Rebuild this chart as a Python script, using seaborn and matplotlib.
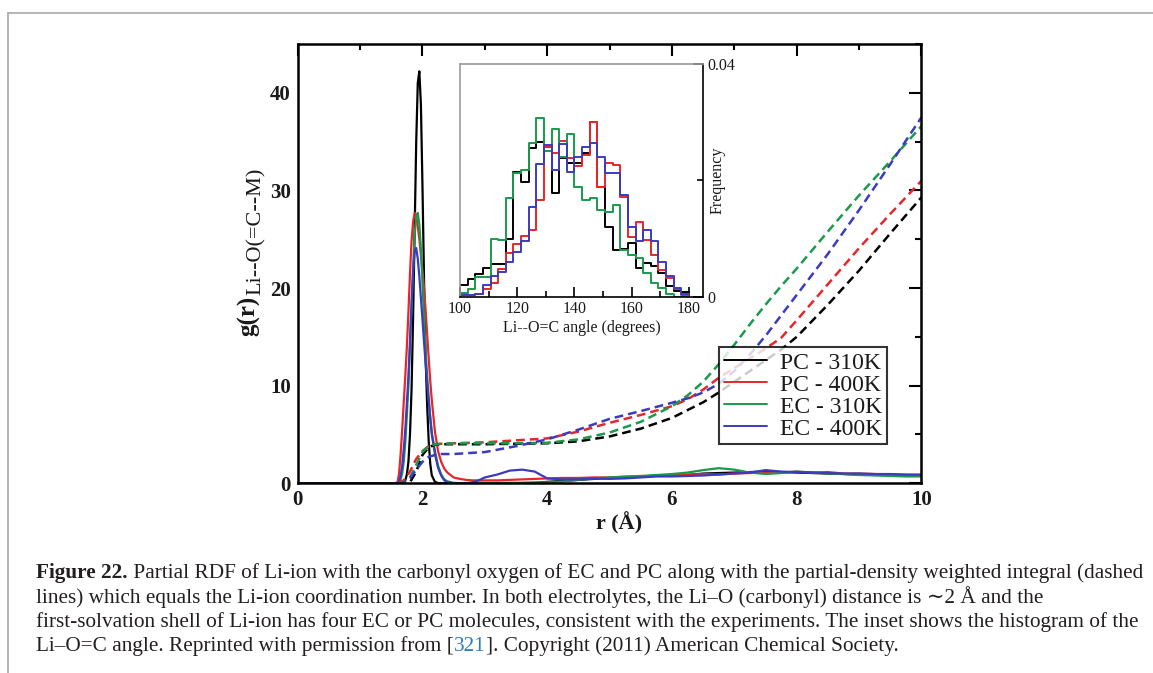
import numpy as np
import pandas as pd
import matplotlib
matplotlib.use("Agg")
import matplotlib.pyplot as plt
import seaborn as sns
from matplotlib.lines import Line2D
from matplotlib.ticker import MultipleLocator, FixedLocator

# ---------------- data ----------------
r_rdf = [0.0, 1.5, 1.55, 1.6, 1.625, 1.65, 1.675, 1.7, 1.725, 1.75, 1.775, 1.8, 1.825, 1.85, 1.875,
         1.9, 1.925, 1.95, 1.975, 2.0, 2.025, 2.05, 2.075, 2.1, 2.125, 2.15, 2.2, 2.25, 2.3, 2.35,
         2.4, 2.5, 2.6, 2.7, 2.8, 2.9, 3.0, 3.2, 3.4, 3.6, 3.8, 4.0, 4.25, 4.5, 4.75, 5.0, 5.25,
         5.5, 5.75, 6.0, 6.25, 6.5, 6.75, 7.0, 7.25, 7.5, 7.75, 8.0, 8.25, 8.5, 8.75, 9.0, 9.25,
         9.5, 9.75, 10.0]

g_pc310 = [0, 0, 0, 0, 0, 0, 0, 0.1, 0.3, 0.9, 2.2, 5.0, 9.6, 17.0, 26.0,
           35.0, 41.0, 42.2, 38.8, 30.5, 21.0, 13.0, 8.0, 4.3, 2.0, 0.8, 0.15, 0.02, 0, 0,
           0, 0, 0, 0, 0, 0, 0, 0, 0.02, 0.03, 0.05, 0.15, 0.25, 0.35, 0.45, 0.55, 0.6,
           0.7, 0.75, 0.8, 0.85, 1.0, 1.05, 1.1, 1.15, 1.2, 1.15, 1.1, 1.05, 1.0, 0.95, 0.9, 0.9,
           0.85, 0.8, 0.8]
g_pc400 = [0, 0, 0, 0.1, 1.0, 3.0, 5.5, 8.3, 11.0, 14.0, 17.5, 21.5, 24.8, 26.8, 27.7,
           27.5, 26.3, 25.0, 23.4, 21.8, 20.0, 17.8, 15.3, 12.8, 10.5, 8.5, 5.3, 3.3, 2.2, 1.5,
           1.1, 0.6, 0.45, 0.35, 0.3, 0.3, 0.3, 0.3, 0.35, 0.4, 0.45, 0.5, 0.55, 0.55, 0.6, 0.6, 0.65,
           0.7, 0.8, 0.85, 0.9, 0.95, 0.9, 1.0, 1.05, 1.1, 1.1, 1.2, 1.1, 1.15, 1.0, 1.0, 0.95,
           0.9, 0.85, 0.8]
g_ec310 = [0, 0, 0, 0, 0.1, 0.4, 1.0, 2.2, 4.2, 7.0, 10.0, 14.0, 18.0, 22.0, 25.5,
           27.3, 27.7, 26.5, 24.0, 20.5, 17.0, 13.5, 11.0, 8.8, 6.8, 5.2, 3.3, 1.8, 0.9, 0.4,
           0.2, 0.05, 0.02, 0.02, 0.03, 0.05, 0.05, 0.05, 0.05, 0.05, 0.08, 0.1, 0.2, 0.35, 0.5, 0.6, 0.7,
           0.75, 0.85, 0.95, 1.1, 1.35, 1.55, 1.4, 1.1, 0.95, 1.05, 1.2, 1.1, 1.0, 0.95, 0.85, 0.8,
           0.75, 0.7, 0.7]
g_ec400 = [0, 0, 0, 0, 0.2, 0.8, 1.8, 3.5, 5.5, 8.2, 11.0, 14.5, 18.5, 21.8, 23.8,
           24.1, 23.0, 21.2, 19.0, 16.8, 14.5, 12.3, 10.3, 8.4, 6.6, 5.0, 3.0, 1.6, 0.8, 0.3,
           0.1, 0.0, 0.0, 0.0, 0.1, 0.3, 0.6, 0.9, 1.3, 1.4, 1.2, 0.5, 0.4, 0.4, 0.5, 0.45, 0.5,
           0.6, 0.7, 0.7, 0.75, 0.8, 0.9, 1.0, 1.1, 1.35, 1.2, 1.15, 1.1, 1.05, 1.0, 1.0, 0.95,
           0.95, 0.9, 0.9]

r_cn = [1.6, 1.7, 1.8, 1.9, 2.0, 2.1, 2.2, 2.3, 2.5, 3.0, 3.5, 4.0, 4.5, 5.0, 5.5, 6.0,
        6.25, 6.5, 6.75, 7.0, 7.25, 7.5, 7.75, 8.0, 8.5, 9.0, 9.5, 10.0]
cn_pc310 = [0, 0, 0.1, 1.2, 2.9, 3.7, 3.95, 4.0, 4.0, 4.0, 4.05, 4.1, 4.3, 4.8, 5.6, 6.7,
            7.5, 8.3, 9.3, 10.4, 11.5, 12.6, 13.7, 15.0, 18.3, 21.8, 25.6, 29.3]
cn_pc400 = [0, 0.3, 1.2, 2.5, 3.3, 3.8, 4.0, 4.05, 4.1, 4.2, 4.4, 4.6, 5.3, 6.2, 7.0, 7.9,
            8.6, 9.6, 10.8, 11.8, 12.8, 13.8, 14.9, 16.7, 20.4, 24.1, 27.6, 31.0]
cn_ec310 = [0, 0.1, 0.6, 1.9, 3.2, 3.85, 4.0, 4.05, 4.1, 4.1, 4.1, 4.15, 4.5, 5.2, 6.3, 7.9,
            9.0, 10.4, 12.2, 14.2, 16.3, 18.3, 20.2, 22.0, 25.8, 29.5, 33.0, 36.6]
cn_ec400 = [0, 0.05, 0.5, 1.4, 2.2, 2.7, 2.9, 3.0, 3.0, 3.2, 3.8, 4.5, 5.5, 6.6, 7.4, 8.25,
            8.7, 9.3, 10.2, 11.5, 13.2, 15.1, 17.2, 19.3, 23.5, 28.0, 32.7, 37.5]

# inset histogram (30 bins between 100 and 180 degrees)
angle_min, angle_max, n_bins = 100, 180, 30
h_pc310 = [0.0020, 0.0030, 0.0039, 0.0049, 0.0057, 0.0057, 0.0100, 0.0215, 0.0198, 0.0255,
           0.0266, 0.0258, 0.0178, 0.0238, 0.0229, 0.0229, 0.0247, 0.0301, 0.0189, 0.0120,
           0.0080, 0.0082, 0.0092, 0.0050, 0.0058, 0.0052, 0.0040, 0.0018, 0.0010, 0.0008]
h_pc400 = [0.0005, 0.0003, 0.0005, 0.0014, 0.0023, 0.0048, 0.0075, 0.0090, 0.0105, 0.0115,
           0.0166, 0.0258, 0.0247, 0.0267, 0.0238, 0.0224, 0.0244, 0.0301, 0.0189, 0.0229,
           0.0226, 0.0172, 0.0103, 0.0129, 0.0097, 0.0072, 0.0046, 0.0032, 0.0014, 0.0003]
h_ec310 = [0.0006, 0.0013, 0.0034, 0.0034, 0.0100, 0.0097, 0.0169, 0.0212, 0.0218, 0.0265,
           0.0308, 0.0250, 0.0288, 0.0240, 0.0280, 0.0189, 0.0166, 0.0170, 0.0149, 0.0145,
           0.0158, 0.0080, 0.0072, 0.0067, 0.0040, 0.0023, 0.0015, 0.0005, 0.0, 0.0]
h_ec400 = [0.0003, 0.0003, 0.0005, 0.0020, 0.0035, 0.0042, 0.0060, 0.0077, 0.0095, 0.0155,
           0.0228, 0.0260, 0.0218, 0.0262, 0.0215, 0.0240, 0.0258, 0.0265, 0.0240, 0.0212,
           0.0212, 0.0175, 0.0120, 0.0095, 0.0115, 0.0095, 0.0060, 0.0035, 0.0015, 0.0005]

labels = ["PC - 310K", "PC - 400K", "EC - 310K", "EC - 400K"]
colors = ["#000000", "#e8262a", "#1a9a4a", "#3b3bbf"]

ylabel_main = "g(r)"
ylabel_sub = "Li--O(=C--M)"

caption_lines = [
    [("Figure 22.", "bold", "k"),
     (" Partial RDF of Li-ion with the carbonyl oxygen of EC and PC along with the partial-density weighted integral (dashed", "normal", "k")],
    [("lines) which equals the Li-ion coordination number. In both electrolytes, the Li\u2013O (carbonyl) distance is \u223c2 \u00c5 and the", "normal", "k")],
    [("first-solvation shell of Li-ion has four EC or PC molecules, consistent with the experiments. The inset shows the histogram of the", "normal", "k")],
    [("Li\u2013O=C angle. Reprinted with permission from [", "normal", "k"), ("321", "normal", "link"),
     ("]. Copyright (2011) American Chemical Society.", "normal", "k")],
]

# ---------------- style ----------------
sns.set_theme(style="white")
plt.rcParams['font.family'] = ['Liberation Serif', 'DejaVu Serif']

W, H = 1153, 673
fig = plt.figure(figsize=(W / 100, H / 100), dpi=100)
fig.patch.set_facecolor("white")
renderer = fig.canvas.get_renderer()

def fx(px):
    return px / W

def fy(py):
    return 1 - py / H

# frame lines of the page
fig.add_artist(Line2D([fx(8), 1], [fy(13), fy(13)], color="#a8a8a8", lw=1.2))
fig.add_artist(Line2D([fx(8), fx(8)], [0, fy(13)], color="#a8a8a8", lw=1.2))

# ---------------- main axes ----------------
L, R, T, B = 297.7, 921.5, 44.0, 483.3
ax = fig.add_axes([fx(L), fy(B), (R - L) / W, (B - T) / H])
ax.set_facecolor("white")

rdfs = [g_pc310, g_pc400, g_ec310, g_ec400]
cns = [cn_pc310, cn_pc400, cn_ec310, cn_ec400]
for g, c in zip(rdfs, colors):
    sns.lineplot(x=r_rdf, y=g, color=c, lw=1.6, ax=ax, legend=False, sort=False)
for n, c in zip(cns, colors):
    sns.lineplot(x=r_cn, y=n, color=c, lw=1.8, ax=ax, legend=False, sort=False,
                 linestyle=(0, (3.5, 2.0)))

ax.set_xlim(0, 10)
ax.set_ylim(0, 45)
ax.xaxis.set_major_locator(MultipleLocator(2))
ax.xaxis.set_minor_locator(MultipleLocator(1))
ax.yaxis.set_major_locator(MultipleLocator(10))
ax.yaxis.set_minor_locator(MultipleLocator(5))
ax.tick_params(which="both", direction="in", top=True, right=True, width=1.5, color="black")
ax.tick_params(which="major", length=8.5)
ax.tick_params(which="minor", length=4.5)
ax.tick_params(axis="x", which="major", pad=5)
ax.tick_params(axis="y", which="major", pad=5)
for lab in ax.get_xticklabels() + ax.get_yticklabels():
    lab.set_fontsize(15)
    lab.set_fontweight("bold")
    lab.set_color("#1a1a1a")
for sp in ax.spines.values():
    sp.set_color("black")
    sp.set_linewidth(1.8)

ax.set_xlabel("r (\u00c5)", fontsize=16, fontweight="bold", labelpad=3, color="#1a1a1a")
ax.xaxis.set_label_coords(0.515, -0.065)
ax.set_ylabel("")
# y label: "g(r)" with a subscript, drawn as two rotated texts
t_main = fig.text(fx(249), fy(336), ylabel_main, rotation=90, fontsize=18, fontweight="bold",
                  color="#1a1a1a", ha="center", va="bottom")
bb_main = t_main.get_window_extent(renderer)
fig.text(fx(256), (bb_main.y1 + 1) / H, ylabel_sub, rotation=90, fontsize=16,
         color="#1a1a1a", ha="center", va="bottom")

handles = [Line2D([], [], color=c, lw=1.4) for c in colors]
leg = ax.legend(handles, labels, loc="upper left", bbox_to_anchor=(0.6755, 0.3095),
                borderaxespad=0, fontsize=17, frameon=True, fancybox=False,
                edgecolor="black", handlelength=1.85, handletextpad=0.55,
                labelspacing=0.02, borderpad=0.2)
leg.get_frame().set_linewidth(1.5)
for t in leg.get_texts():
    t.set_color("#1a1a1a")

# ---------------- inset ----------------
iL, iR, iT, iB = 460.0, 703.3, 64.0, 296.7
axin = fig.add_axes([fx(iL), fy(iB), (iR - iL) / W, (iB - iT) / H])
axin.set_facecolor("white")
bw = (angle_max - angle_min) / n_bins
centers = [angle_min + bw * (k + 0.5) for k in range(n_bins)]
for h, c in zip([h_pc310, h_pc400, h_ec310, h_ec400], colors):
    dfh = pd.DataFrame({"angle": centers, "freq": h})
    sns.histplot(data=dfh, x="angle", weights="freq", binwidth=bw,
                 binrange=(angle_min, angle_max), element="step", fill=False,
                 color=c, lw=1.4, ax=axin)
axin.set_xlim(100, 185)
axin.set_ylim(0, 0.04)
axin.xaxis.set_major_locator(MultipleLocator(20))
axin.xaxis.set_minor_locator(MultipleLocator(10))
axin.yaxis.set_major_locator(FixedLocator([0, 0.04]))
axin.yaxis.set_minor_locator(FixedLocator([0.02]))
axin.yaxis.tick_right()
axin.set_yticklabels(["0", "0.04"])
axin.tick_params(which="both", direction="in", width=1.2, color="black",
                 top=False, left=False, right=True, bottom=True, labelsize=11.5, pad=3)
axin.tick_params(which="major", length=7)
axin.tick_params(which="minor", length=4)
for lab in axin.get_xticklabels() + axin.get_yticklabels():
    lab.set_color("#1a1a1a")
axin.spines["top"].set_color("#9a9a9a")
axin.spines["left"].set_color("#9a9a9a")
axin.spines["right"].set_color("black")
axin.spines["bottom"].set_color("black")
for sp in axin.spines.values():
    sp.set_linewidth(1.2)
axin.set_xlabel("Li--O=C angle (degrees)", fontsize=11.5, labelpad=2, color="#1a1a1a")
axin.set_ylabel("")
axin.text(1.058, 0.5, "Frequency", transform=axin.transAxes, rotation=90,
          ha="center", va="center", fontsize=11.5, color="#1a1a1a")

# ---------------- caption ----------------
cap_col = {"k": "#231f20", "link": "#2f7bbf"}
probe = fig.text(0, 0, "".join(s for s, _, _ in caption_lines[2]), fontsize=12)
wprobe = probe.get_window_extent(renderer).width
probe.remove()
cap_size = 12 * 1100.0 / wprobe
cap_base = [578.0, 602.5, 627.0, 651.0]
for segs, yy in zip(caption_lines, cap_base):
    x = fx(36)
    for s, wt, col in segs:
        t = fig.text(x, fy(yy), s, fontsize=cap_size, fontweight=wt, color=cap_col[col],
                     ha="left", va="baseline")
        bb = t.get_window_extent(renderer)
        x = bb.x1 / W

fig.savefig("out.png", dpi=100, facecolor="white")
